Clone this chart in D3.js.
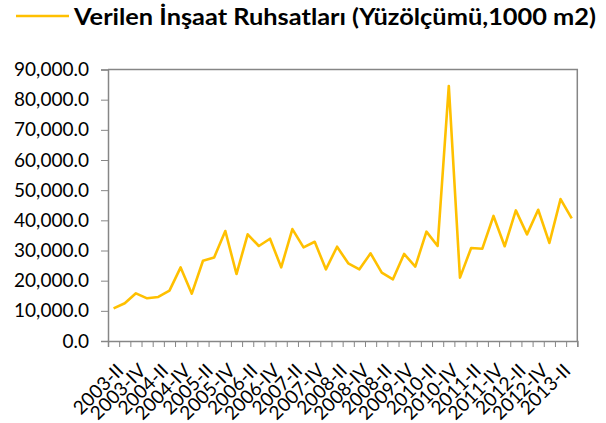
<!DOCTYPE html>
<html>
<head>
<meta charset="utf-8">
<title>Verilen İnşaat Ruhsatları</title>
<script src="https://d3js.org/d3.v7.min.js"></script>
<style>
  body { margin: 0; background: #fff; }
  svg { display: block; font-family: Lato, "Liberation Sans", sans-serif; }
  .axis path, .axis line { stroke: #868686; }
</style>
</head>
<body>
<svg id="chart" width="606" height="423"></svg>
<script>
// quarters 2003-I .. 2013-II (the source labels 2009-II as "2008-II", kept as is)
var quarters = [
  "2003-I","2003-II","2003-III","2003-IV",
  "2004-I","2004-II","2004-III","2004-IV",
  "2005-I","2005-II","2005-III","2005-IV",
  "2006-I","2006-II","2006-III","2006-IV",
  "2007-I","2007-II","2007-III","2007-IV",
  "2008-I","2008-II","2008-III","2008-IV",
  "2009-I","2008-II","2009-III","2009-IV",
  "2010-I","2010-II","2010-III","2010-IV",
  "2011-I","2011-II","2011-III","2011-IV",
  "2012-I","2012-II","2012-III","2012-IV",
  "2013-I","2013-II"
];
var values = [
  10800, 12500, 15800, 14150, 14600, 16700, 24400, 15700, 26600, 27700,
  36450, 22200, 35350, 31500, 33900, 24400, 37100, 31050, 32900, 23750,
  31250, 25750, 23750, 29050, 22650, 20450, 28850, 24650, 36250, 31500,
  84550, 21000, 30850, 30600, 41450, 31400, 43300, 35350, 43500, 32500,
  47050, 40650
];
var yTicks = [0, 10000, 20000, 30000, 40000, 50000, 60000, 70000, 80000, 90000];
var seriesName = "Verilen İnşaat Ruhsatları (Yüzölçümü,1000 m2)";

var svg = d3.select("#chart");
var plotL = 108, plotR = 577.3, plotT = 69.5, plotB = 341;
var color = "#FFC000";

var x = d3.scaleBand().domain(d3.range(quarters.length)).range([plotL, plotR]);
var xb = d3.scaleLinear().domain([0, quarters.length]).range([plotL, plotR]);
var y = d3.scaleLinear().domain([0, 90000]).range([plotB, plotT]);

// plot border (top + right)
svg.append("path")
  .attr("d", "M" + plotL + "," + plotT + "H" + plotR + "V" + plotB)
  .attr("fill", "none").attr("stroke", "#868686").attr("stroke-width", 1.5);

// y axis
var ya = svg.append("g").attr("class", "axis")
  .attr("transform", "translate(" + plotL + ",0)")
  .call(d3.axisLeft(y).tickValues(yTicks).tickSize(7).tickPadding(12).tickFormat(d3.format(",.1f")));
ya.select(".domain").attr("stroke-width", 1.5);
ya.selectAll("text").attr("font-size", 19).attr("fill", "#000").attr("font-family", "Lato, 'Liberation Sans', sans-serif");

// x axis: tick marks on category boundaries
var xa = svg.append("g").attr("class", "axis")
  .attr("transform", "translate(0," + plotB + ")")
  .call(d3.axisBottom(xb).tickValues(d3.range(quarters.length + 1)).tickSize(6).tickFormat(""));
xa.select(".domain").attr("stroke-width", 1.5);

// x labels, every second quarter
svg.append("g").selectAll("text")
  .data(quarters.map(function (q, i) { return {q: q, i: i}; }).filter(function (d) { return d.i % 2 == 1; }))
  .join("text")
  .attr("transform", function (d) { return "translate(" + (x(d.i) + x.bandwidth() / 2) + ",372) rotate(-45)"; })
  .attr("text-anchor", "end")
  .attr("font-size", 19)
  .attr("fill", "#000")
  .text(function (d) { return d.q; });

// series line
var line = d3.line()
  .x(function (d, i) { return x(i) + x.bandwidth() / 2; })
  .y(function (d) { return y(d); });
svg.append("path")
  .datum(values)
  .attr("d", line)
  .attr("fill", "none")
  .attr("stroke", color)
  .attr("stroke-width", 2.6)
  .attr("stroke-linejoin", "round");

// legend / title
svg.append("line")
  .attr("x1", 16).attr("x2", 69).attr("y1", 16).attr("y2", 16)
  .attr("stroke", color).attr("stroke-width", 2.6);
svg.append("text")
  .attr("x", 74).attr("y", 24.5)
  .attr("font-size", 23).attr("font-weight", "bold").attr("fill", "#000")
  .attr("textLength", 522).attr("lengthAdjust", "spacingAndGlyphs")
  .text(seriesName);
</script>
</body>
</html>
